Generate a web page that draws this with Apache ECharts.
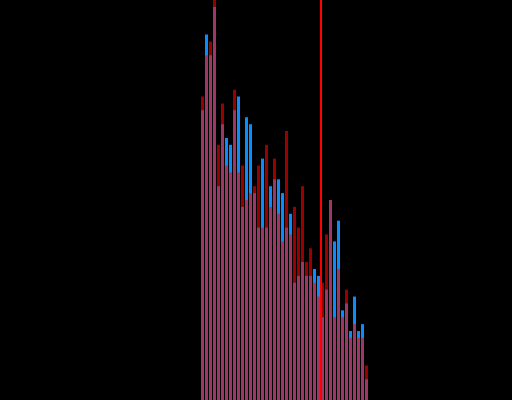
<!DOCTYPE html>
<html>
<head>
<meta charset="utf-8">
<script src="https://cdn.jsdelivr.net/npm/echarts@6/dist/echarts.min.js"></script>
<style>html,body{margin:0;padding:0;background:#000;}#c{width:512px;height:400px;}</style>
</head>
<body>
<div id="c"></div>
<script>
// Histogram bins (index of each bin)
const bins = ['0','1','2','3','4','5','6','7','8','9','10','11','12','13','14','15','16','17','18','19','20','21','22','23','24','25','26','27','28','29','30','31','32','33','34','35','36','37','38','39','40','41'];
// Counts per bin, group A (blue)
const groupA = [42,53,50,57,31,40,38,37,42,44,28,41,40,30,25,35,25,31,32,32,30,25,27,17,18,20,18,18,19,18,12,16,29,23,26,13,14,10,15,10,11,3];
// Counts per bin, group B (red, translucent)
const groupB = [44,50,52,58,37,43,34,33,45,33,34,29,30,31,34,25,37,28,35,27,23,39,24,28,25,31,20,22,17,15,17,24,29,12,19,12,16,9,11,9,9,5];
// Reference line position (bin edge)
const refEdge = 30;
const yMax = 58;

const chart = echarts.init(document.getElementById('c'), null, {renderer: 'canvas'});
chart.setOption({
  backgroundColor: '#000000',
  animation: false,
  grid: {left: 200.5, width: 168, top: 0, bottom: 0, containLabel: false},
  xAxis: [
    {type: 'category', data: bins, show: false, boundaryGap: true},
    {type: 'value', min: 0, max: bins.length, show: false}
  ],
  yAxis: {type: 'value', min: 0, max: yMax, show: false},
  series: [
    {
      type: 'bar', data: groupA, barWidth: 3, barGap: '-100%',
      itemStyle: {color: '#0a8cff'}, silent: true
    },
    {
      type: 'bar', data: groupB, barWidth: 3, barGap: '-100%',
      itemStyle: {color: '#ff0000', opacity: 0.6}, silent: true
    },
    {
      type: 'scatter', xAxisIndex: 1, data: [], silent: true,
      markLine: {
        silent: true, symbol: ['none', 'none'], label: {show: false},
        lineStyle: {color: '#ff0000', width: 2, type: 'solid', opacity: 1},
        data: [{xAxis: refEdge}]
      }
    }
  ]
});
</script>
</body>
</html>
